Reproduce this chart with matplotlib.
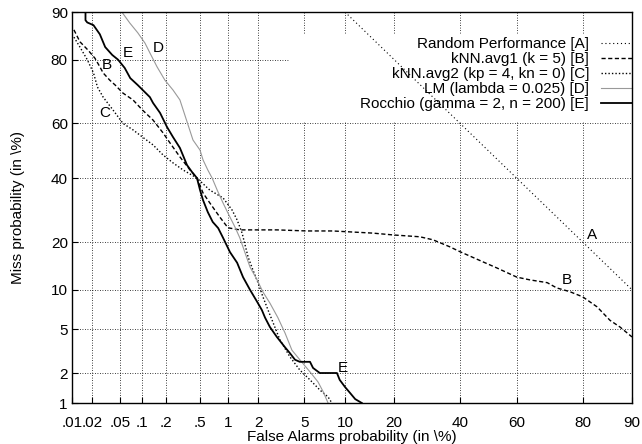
from statistics import NormalDist

import numpy as np
import matplotlib
matplotlib.use("Agg")
import matplotlib.pyplot as plt
from matplotlib.patches import Rectangle

plt.rcParams["font.family"] = "Liberation Sans"

# ---- data (percent) ----
fa_random = [10, 20, 40, 60, 80, 90]
miss_random = [90, 80, 60, 40, 20, 10]

fa_knn1 = [.0107, .0132, .0174, .022, .026, .029, .036, .043, .055, .075, .1,
           .137, .183, .223, .293, .385, .462, .54, .64, .82, 1.0, 1.32, 2.94,
           5.25, 8.2, 15.1, 19.7, 27, 31, 36.5, 40, 48, 53, 60, 64.4, 70, 72.9,
           76.6, 80, 83.4, 86.1, 88, 90]
miss_knn1 = [86.8, 84.3, 82.4, 80.4, 78.1, 76.4, 74.3, 72.8, 70.3, 68.1, 64.7,
             61.2, 56.6, 52.9, 47.8, 43, 40.1, 34.9, 31.6, 27.1, 23.9, 23.3,
             23.3, 23, 23, 22.4, 21.9, 21.4, 20.6, 18.8, 17.6, 15.3, 14, 12.2,
             11.7, 11.2, 10.3, 9.7, 8.9, 7.5, 5.9, 5.2, 4.3]

fa_knn2 = [.0107, .0132, .017, .021, .024, .029, .04, .055, .075, .1, .137,
           .183, .242, .32, .462, .64, .89, 1.1, 1.24, 1.39, 1.59, 1.77, 1.98,
           2.2, 2.45, 3.13, 3.81, 4.6, 5.55, 6.6, 7.6, 8.1]
miss_knn2 = [85.3, 83.1, 80, 76.4, 72.2, 69, 64.7, 60, 57.7, 55.1, 52.2, 48.5,
             45.6, 43, 40.1, 35.9, 33.2, 29.3, 26.2, 22.4, 16.4, 13.6, 11.2,
             8.9, 7.1, 4.06, 2.87, 2.16, 1.73, 1.37, 1.16, 1.0]

fa_lm = [.053, .068, .087, .108, .125, .154, .193, .242, .293, .416, .5, .54,
         .61, .68, .77, .89, 1.0, 1.18, 1.32, 1.66, 1.94, 2.2, 2.55, 3.0, 3.46,
         3.96, 4.6, 5.55, 6.4, 7.0, 7.6]
miss_lm = [90, 88.1, 86.2, 84.0, 81.7, 78.1, 74.3, 71.3, 68.1, 54, 50.3, 46.7,
           43, 40.1, 35.9, 31.5, 28.3, 24.1, 21.1, 14.2, 11.7, 9.65, 8.0, 6.2,
           4.65, 3.3, 2.7, 2.07, 1.65, 1.31, 1.0]

fa_rocchio = [.016, .016, .017, .021, .026, .031, .039, .047, .058, .069, .087,
              .125, .137, .168, .205, .242, .293, .355, .405, .462, .5, .54,
              .61, .69, .79, .89, 1.05, 1.24, 1.42, 1.66, 1.94, 2.15, 2.30,
              2.55, 2.94, 3.46, 3.81, 4.2, 4.6, 5.55, 5.86, 6.6, 8.8, 9.2, 10,
              10.8, 11.7, 12.9]
miss_rocchio = [90, 88.6, 88.2, 87.7, 85.9, 83.1, 81.2, 80, 77.8, 74.9, 72.8,
                69, 67.1, 63.7, 58.7, 55.1, 51.1, 44.8, 42.3, 40.1, 35.9, 32.5,
                28.6, 25.6, 23.8, 21.1, 17.5, 15.1, 12.2, 10, 8.2, 7.1, 6.2,
                5.2, 4.3, 3.5, 3.1, 2.7, 2.58, 2.58, 2.26, 2.02, 2.02, 1.73,
                1.47, 1.28, 1.1, 1.0]

series_labels = ["Random Performance [A]", "kNN.avg1 (k = 5) [B]",
                 "kNN.avg2 (kp = 4, kn = 0) [C]", "LM (lambda = 0.025) [D]",
                 "Rocchio (gamma = 2, n = 200) [E]"]

# curve tags placed next to the curves (percent coords)
tag_text = ["A", "B", "B", "C", "D", "E", "E"]
tag_fa = [82.2, 75.8, .033, .031, .158, .064, 9.7]
tag_miss = [21.9, 11.7, 78.6, 63.7, 82.9, 81.7, 2.26]

x_ticks = [.01, .02, .05, .1, .2, .5, 1, 2, 5, 10, 20, 40, 60, 80, 90]
x_ticklabels = [".01", ".02", ".05", ".1", ".2", ".5", "1", "2", "5", "10",
                "20", "40", "60", "80", "90"]
y_ticks = [1, 2, 5, 10, 20, 40, 60, 80, 90]

# ---- normal deviate scale ----
_nd = NormalDist()
_ppf = np.vectorize(_nd.inv_cdf, otypes=[float])
_cdf = np.vectorize(_nd.cdf, otypes=[float])


def to_dev(p):
    p = np.clip(np.asarray(p, dtype=float) / 100.0, 1e-7, 1 - 1e-7)
    return _ppf(p)


def from_dev(z):
    return _cdf(np.asarray(z, dtype=float)) * 100.0


fig = plt.figure(figsize=(6.42, 4.44), dpi=100)
ax = fig.add_axes([72 / 642, 41 / 444, 560 / 642, 391 / 444])
ax.set_xscale("function", functions=(to_dev, from_dev))
ax.set_yscale("function", functions=(to_dev, from_dev))

ax.plot(fa_random, miss_random, color="black", lw=0.8,
        linestyle=(0, (1, 2.5)), label=series_labels[0])
ax.plot(fa_knn1, miss_knn1, color="black", lw=1.0,
        linestyle=(0, (3, 1.8)), label=series_labels[1])
ax.plot(fa_knn2, miss_knn2, color="black", lw=1.0,
        linestyle=(0, (1, 1.5)), label=series_labels[2])
ax.plot(fa_lm, miss_lm, color="#999999", lw=0.8, label=series_labels[3])
ax.plot(fa_rocchio, miss_rocchio, color="black", lw=1.3,
        label=series_labels[4])

for t, xv, yv in zip(tag_text, tag_fa, tag_miss):
    ax.text(xv, yv, t, ha="center", va="center", fontsize=11)

ax.set_xlim(.01, 90)
ax.set_ylim(1, 90)
ax.set_xticks(x_ticks)
ax.set_xticklabels(x_ticklabels)
ax.set_yticks(y_ticks)
ax.set_yticklabels([str(v) for v in y_ticks])
ax.minorticks_off()
ax.tick_params(direction="in", length=4, width=0.8, labelsize=11)
ax.tick_params(axis="x", pad=9)
ax.tick_params(axis="y", pad=3)

ax.set_axisbelow(True)
ax.grid(True, color="black", linestyle=(0, (1, 2)), linewidth=0.6)
for s in ax.spines.values():
    s.set_linewidth(1.0)

# opaque key area (gnuplot style), above grid but below curves
ax.add_patch(Rectangle((218 / 560, 1 - 110 / 391), 1 - 218 / 560, 87 / 391,
                       transform=ax.transAxes, facecolor="white",
                       edgecolor="none", zorder=1.2))
leg = ax.legend(loc="upper right", bbox_to_anchor=(1.0, 1 - 25 / 391),
                markerfirst=False, frameon=False, fontsize=11,
                handlelength=2.0, handletextpad=0.8, labelspacing=0.065,
                borderpad=0, borderaxespad=0)
leg.set_zorder(1.5)

ax.set_xlabel("False Alarms probability (in \\%)", fontsize=11)
ax.xaxis.set_label_coords(0.5, -0.068)
ax.set_ylabel("Miss probability (in \\%)", fontsize=11)
ax.yaxis.set_label_coords(-0.084, 0.5)

fig.savefig("out.png", dpi=100)
